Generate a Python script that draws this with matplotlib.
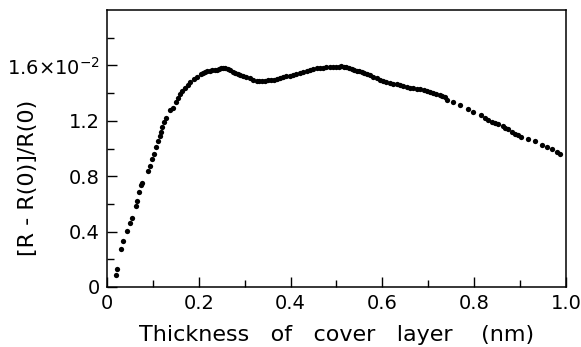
import matplotlib
matplotlib.use("Agg")
import matplotlib.pyplot as plt
from matplotlib.ticker import MultipleLocator, FixedLocator

# Data (x in nm, y in units of 1e-2)
thickness = [
    0.019, 0.021, 0.031, 0.036, 0.043, 0.050, 0.054, 0.063, 0.066, 0.070,
    0.075, 0.077, 0.089, 0.093, 0.098, 0.103, 0.107, 0.112, 0.115, 0.118,
    0.121, 0.125, 0.129, 0.137, 0.144, 0.151, 0.155, 0.160, 0.163, 0.170,
    0.177, 0.182, 0.190, 0.197, 0.204, 0.209, 0.214, 0.219, 0.224, 0.229,
    0.235, 0.240, 0.245, 0.249, 0.253, 0.258, 0.264, 0.269, 0.275, 0.280,
    0.286, 0.291, 0.297, 0.304, 0.312, 0.319, 0.326, 0.331, 0.337, 0.344,
    0.351, 0.358, 0.364, 0.370, 0.377, 0.384, 0.391, 0.399, 0.406, 0.413,
    0.420, 0.428, 0.435, 0.442, 0.449, 0.457, 0.464, 0.471, 0.478, 0.486,
    0.493, 0.500, 0.506, 0.511, 0.517, 0.522, 0.528, 0.533, 0.539, 0.544,
    0.550, 0.555, 0.561, 0.566, 0.573, 0.580, 0.588, 0.595, 0.602, 0.609,
    0.616, 0.624, 0.631, 0.638, 0.645, 0.653, 0.660, 0.667, 0.675, 0.682,
    0.690, 0.697, 0.704, 0.711, 0.718, 0.725, 0.731, 0.736, 0.741, 0.754,
    0.769, 0.787, 0.798, 0.816, 0.824, 0.831, 0.838, 0.846, 0.853, 0.863,
    0.868, 0.874, 0.882, 0.889, 0.896, 0.903, 0.918, 0.932, 0.947, 0.958,
    0.969, 0.980, 0.988,
]
signal = [
    0.086, 0.130, 0.274, 0.329, 0.401, 0.463, 0.495, 0.584, 0.622, 0.687,
    0.735, 0.754, 0.838, 0.877, 0.922, 0.963, 1.011, 1.054, 1.088, 1.119,
    1.155, 1.191, 1.220, 1.275, 1.295, 1.335, 1.362, 1.396, 1.412, 1.439,
    1.460, 1.479, 1.504, 1.520, 1.537, 1.547, 1.554, 1.560, 1.563, 1.566,
    1.568, 1.570, 1.571, 1.578, 1.583, 1.582, 1.576, 1.568, 1.556, 1.548,
    1.540, 1.533, 1.527, 1.516, 1.508, 1.498, 1.491, 1.490, 1.491, 1.490,
    1.494, 1.496, 1.498, 1.501, 1.508, 1.515, 1.521, 1.527, 1.533, 1.540,
    1.548, 1.556, 1.562, 1.568, 1.572, 1.578, 1.582, 1.585, 1.586, 1.587,
    1.589, 1.590, 1.592, 1.594, 1.591, 1.587, 1.582, 1.576, 1.570, 1.563,
    1.557, 1.551, 1.546, 1.540, 1.530, 1.520, 1.508, 1.496, 1.486, 1.477,
    1.472, 1.468, 1.464, 1.460, 1.452, 1.443, 1.440, 1.436, 1.432, 1.427,
    1.423, 1.419, 1.411, 1.403, 1.396, 1.388, 1.380, 1.371, 1.347, 1.335,
    1.311, 1.282, 1.263, 1.239, 1.220, 1.205, 1.191, 1.182, 1.174, 1.160,
    1.150, 1.138, 1.122, 1.107, 1.095, 1.083, 1.066, 1.054, 1.028, 1.011,
    0.994, 0.975, 0.958,
]

y_ticks = [0, 0.4, 0.8, 1.2, 1.6]
y_tick_labels = ["0", "0.4", "0.8", "1.2", "1.6×10$^{-2}$"]
x_ticks = [0, 0.2, 0.4, 0.6, 0.8, 1.0]
x_tick_labels = ["0", "0.2", "0.4", "0.6", "0.8", "1.0"]

plt.rcParams['font.family'] = ['DejaVu Sans']
plt.rcParams['mathtext.fontset'] = 'dejavusans'

fig = plt.figure(figsize=(5.81, 3.47), dpi=100)
ax = fig.add_axes([0.184, 0.173, 0.790, 0.798])

ax.plot(thickness, signal, linestyle='none', marker='o', markersize=3.8,
        color='black', markeredgewidth=0)

ax.set_xlim(0, 1.0)
ax.set_ylim(0, 2.0)

ax.xaxis.set_major_locator(FixedLocator(x_ticks))
ax.set_xticklabels(x_tick_labels)
ax.xaxis.set_minor_locator(MultipleLocator(0.1))
ax.yaxis.set_major_locator(FixedLocator(y_ticks))
ax.set_yticklabels(y_tick_labels)
ax.yaxis.set_minor_locator(FixedLocator([0.2, 0.6, 1.0, 1.4, 1.8]))

ax.tick_params(which='both', direction='in', labelsize=14, width=1.0,
               colors='black', top=False, right=False)
ax.tick_params(which='major', length=7, pad=5)
ax.tick_params(which='minor', length=5)

for s in ax.spines.values():
    s.set_linewidth(1.1)
    s.set_color('black')

ax.set_xlabel("Thickness   of   cover   layer    (nm)", fontsize=16, labelpad=9)
ax.set_ylabel("[R - R(0)]/R(0)", fontsize=16)
ax.yaxis.set_label_coords(-0.150, 0.395)

fig.savefig("out.png", dpi=100, facecolor='white')
